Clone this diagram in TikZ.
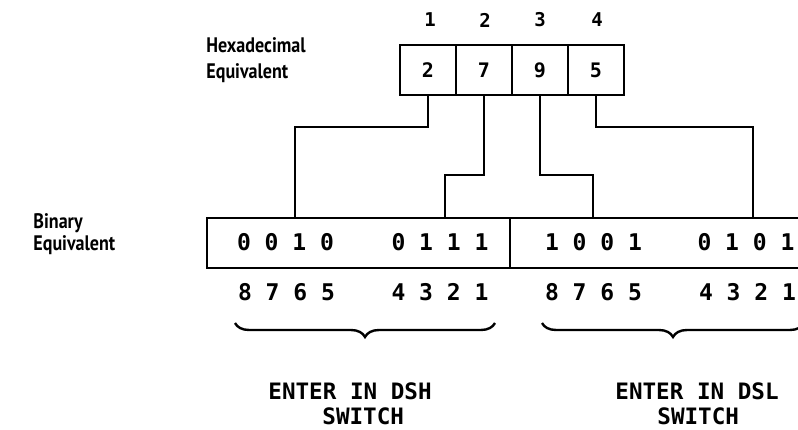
\documentclass[tikz,border=0pt]{standalone}
\usepackage{fontspec}
\setmainfont{PT Sans}
\newfontfamily\labfont[FakeStretch=0.86]{PT Sans}
\newfontfamily\lett{DejaVu Sans Mono}
\usetikzlibrary{decorations.pathreplacing}
\begin{document}
\begin{tikzpicture}[x=1pt,y=-1pt, line width=2.8pt,
  cell/.style={minimum width=56pt, minimum height=50pt, inner sep=0pt, outer sep=0pt, font=\lett\bfseries\fontsize{20}{20}\selectfont},
  toplab/.style={font=\lett\bfseries\fontsize{19}{19}\selectfont, inner sep=0pt},
  bits/.style={font=\lett\bfseries\fontsize{23}{23}\selectfont, inner sep=0pt},
  half/.style={minimum width=#1, minimum height=50pt, inner sep=0pt, outer sep=0pt},
  lab/.style={align=left, inner sep=0pt, anchor=north west},
  enter/.style={font=\lett\bfseries\fontsize{22.6}{25}\selectfont, align=left, inner sep=0pt, anchor=north west},
  boxline/.style={line width=2.8pt},
  wire/.style={line width=2.6pt},
  brc/.style={decorate, decoration={brace, mirror, amplitude=14pt}, line width=2.4pt}]
\useasboundingbox (0,0) rectangle (798,430);

% labels
\node[lab, font=\labfont\bfseries\fontsize{21}{26}\selectfont] (hexlab) at (205,36) {Hexadecimal\\Equivalent};
\node[lab, font=\labfont\bfseries\fontsize{21}{22}\selectfont] (binlab) at (32,212) {Binary\\Equivalent};

% hex cells
\node[cell] (h1) at (428,70) {2};
\node[cell] (h2) at (484,70) {7};
\node[cell] (h3) at (540,70) {9};
\node[cell] (h4) at (596,70) {5};
\draw[boxline] (h1.south west) rectangle (h4.north east);
\foreach \c in {h1,h2,h3}
  \draw[boxline] (\c.north east) -- (\c.south east);
\node[toplab] (n1) at (430,20) {1};
\node[toplab] (n2) at (485,20) {2};
\node[toplab] (n3) at (540,20) {3};
\node[toplab] (n4) at (597,20) {4};

% binary box
\node[half=303pt] (dsh) at (358.5,243) {};
\node[half=288pt] (dsl) at (654,243) {};
\draw[boxline] (dsl.north east) -- (dsh.north west) -- (dsh.south west) -- (dsl.south east);
\draw[boxline] (dsh.north east) -- (dsh.south east);

\node[bits] (b1) at (285.5,242) {0 0 1 0};
\node[bits] (b2) at (440,242) {0 1 1 1};
\node[bits] (b3) at (593.5,242) {1 0 0 1};
\node[bits] (b4) at (746,242) {0 1 0 1};
\node[bits] (p1) at (286.5,292) {8 7 6 5};
\node[bits] (p2) at (440,292) {4 3 2 1};
\node[bits] (p3) at (593.5,292) {8 7 6 5};
\node[bits] (p4) at (747.5,292) {4 3 2 1};

% connectors
\coordinate (t1) at (295,218);
\coordinate (t2) at (445,218);
\coordinate (t3) at (593,218);
\coordinate (t4) at (753,218);
\draw[wire] (h1.south) -- ++(0,32) -| (t1);
\draw[wire] (h2.south) -- ++(0,80) -| (t2);
\draw[wire] (h3.south) -- ++(0,80) -| (t3);
\draw[wire] (h4.south) -- ++(0,32) -| (t4);

% braces
\coordinate (bra) at (235,323);
\coordinate (brb) at (495,323);
\coordinate (brc) at (542,323);
\coordinate (brd) at (804,323);
\draw[brc] (bra) -- (brb);
\draw[brc] (brc) -- (brd);

% switch texts
\node[enter] (dshtxt) at (267,381) {ENTER IN DSH\\\hspace*{54pt}SWITCH};
\node[enter] (dsltxt) at (614,381) {ENTER IN DSL\\\hspace*{42pt}SWITCH};
\end{tikzpicture}
\end{document}
